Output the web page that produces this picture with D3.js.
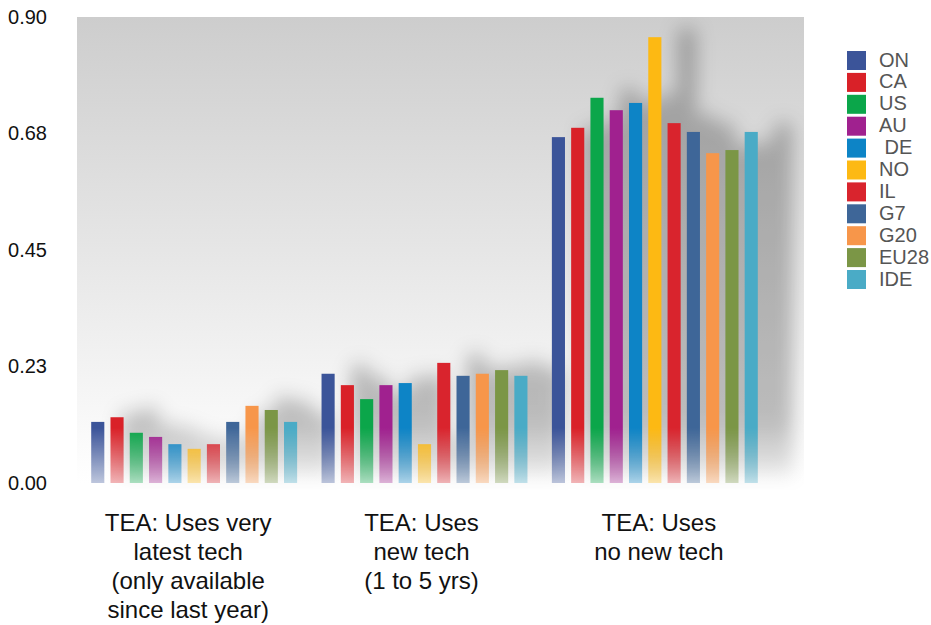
<!DOCTYPE html>
<html>
<head>
<meta charset="utf-8">
<script src="https://cdn.jsdelivr.net/npm/d3@7"></script>
<style>
    html, body { margin: 0; padding: 0; background: #fff; }
    svg { display: block; font-family: "Liberation Sans", Arial, sans-serif; }
</style>
</head>
<body>
<svg id="chart" width="931" height="625"></svg>
<script>
// data
const groups = ["latest", "new", "none"];
const groupLabels = [
    ["TEA: Uses very", "latest tech", "(only available", "since last year)"],
    ["TEA: Uses", "new tech", "(1 to 5 yrs)"],
    ["TEA: Uses", "no new tech"]
];
const series = ["ON", "CA", "US", "AU", " DE", "NO", "IL", "G7", "G20", "EU28", "IDE"];
const colors = ["#3b5499", "#d92128", "#0ba64a", "#a0218f", "#0d84c6", "#fdb913",
    "#d9242d", "#3e6698", "#f7964a", "#7b9646", "#4aabc6"];
const valuesLatest = [0.118, 0.127, 0.097, 0.089, 0.075, 0.066, 0.075, 0.118, 0.149, 0.141, 0.118];
const valuesNew = [0.211, 0.189, 0.162, 0.189, 0.193, 0.075, 0.232, 0.207, 0.211, 0.218, 0.207];
const valuesNone = [0.668, 0.686, 0.744, 0.720, 0.734, 0.861, 0.695, 0.678, 0.637, 0.643, 0.678];
const yTicks = [0, 0.225, 0.45, 0.675, 0.9];
const yTickLabels = ["0.00", "0.23", "0.45", "0.68", "0.90"];

const W = 931, H = 625,
    PLOT_LEFT = 77, PLOT_RIGHT = 804, PLOT_TOP = 17, PLOT_BOTTOM = 490,
    Y_ZERO = 483;
// the category labels are not quite centred under their bars
const LABEL_SHIFT = [-6, -3, 4];

const rows = [valuesLatest, valuesNew, valuesNone];
const bars = [];
rows.forEach((vals, gi) => {
    vals.forEach((v, si) => bars.push({group: groups[gi], key: series[si], color: colors[si], value: v}));
});

const svg = d3.select("#chart");
const defs = svg.append("defs");

const x0 = d3.scaleBand().domain(groups).range([79, 770]).paddingInner(0.106).paddingOuter(0.053);
const x1 = d3.scaleBand().domain(series).range([0, x0.bandwidth()]).paddingInner(0.32).paddingOuter(0);
const y = d3.scaleLinear().domain([0, 0.9]).range([Y_ZERO, PLOT_TOP]);

// background gradient
const bg = defs.append("linearGradient").attr("id", "bgGrad")
    .attr("gradientUnits", "userSpaceOnUse")
    .attr("x1", 0).attr("y1", PLOT_TOP).attr("x2", 0).attr("y2", Y_ZERO);
bg.append("stop").attr("offset", 0).attr("stop-color", "#cdcdcd");
bg.append("stop").attr("offset", 1).attr("stop-color", "#ffffff");

// fade at the bottom of the bars
const fade = defs.append("linearGradient").attr("id", "fadeGrad")
    .attr("gradientUnits", "userSpaceOnUse")
    .attr("x1", 0).attr("y1", 428).attr("x2", 0).attr("y2", Y_ZERO);
fade.append("stop").attr("offset", 0).attr("stop-color", "#fff");
fade.append("stop").attr("offset", 1).attr("stop-color", "#555");
defs.append("mask").attr("id", "fadeMask")
    .attr("maskUnits", "userSpaceOnUse")
    .attr("x", 0).attr("y", 0).attr("width", W).attr("height", H)
    .append("rect").attr("width", W).attr("height", H).attr("fill", "url(#fadeGrad)");

// soft shadow
const shadow = defs.append("filter").attr("id", "shadow")
    .attr("filterUnits", "userSpaceOnUse")
    .attr("x", 0).attr("y", 0).attr("width", W).attr("height", H);
shadow.append("feGaussianBlur").attr("in", "SourceAlpha").attr("stdDeviation", 10).attr("result", "blur");
shadow.append("feOffset").attr("in", "blur").attr("dx", 32).attr("dy", -8).attr("result", "off");
shadow.append("feFlood").attr("flood-color", "#000").attr("flood-opacity", 0.36);
shadow.append("feComposite").attr("in2", "off").attr("operator", "in");

defs.append("clipPath").attr("id", "plotClip")
    .append("rect")
    .attr("x", PLOT_LEFT).attr("y", PLOT_TOP)
    .attr("width", PLOT_RIGHT - PLOT_LEFT).attr("height", PLOT_BOTTOM - PLOT_TOP);

svg.append("rect")
    .attr("x", PLOT_LEFT).attr("y", PLOT_TOP)
    .attr("width", PLOT_RIGHT - PLOT_LEFT).attr("height", PLOT_BOTTOM - PLOT_TOP)
    .attr("fill", "url(#bgGrad)");

function drawBars(parent) {
    parent.selectAll("rect")
        .data(bars)
        .join("rect")
        .attr("x", (d) => x0(d.group) + x1(d.key))
        .attr("y", (d) => y(d.value))
        .attr("width", x1.bandwidth())
        .attr("height", (d) => y(0) - y(d.value))
        .attr("fill", (d) => d.color);
}

drawBars(svg.append("g").attr("clip-path", "url(#plotClip)")
    .append("g").attr("filter", "url(#shadow)")
    .append("g").attr("mask", "url(#fadeMask)"));
drawBars(svg.append("g").attr("mask", "url(#fadeMask)"));

// y axis
const yAxis = svg.append("g")
    .attr("transform", "translate(55,0)")
    .call(d3.axisLeft(y).tickValues(yTicks).tickSize(0).tickPadding(8)
        .tickFormat((d, i) => yTickLabels[i]));
yAxis.select(".domain").remove();
yAxis.selectAll("text")
    .attr("font-family", "'Liberation Sans', Arial, sans-serif")
    .attr("font-size", 20)
    .attr("fill", "#111");

// category labels
const lab = svg.append("g").selectAll("text")
    .data(groups)
    .join("text")
    .attr("text-anchor", "middle")
    .attr("font-size", 24)
    .attr("fill", "#111")
    .attr("transform", (d, i) => `translate(${x0(d) + x0.bandwidth() / 2 + LABEL_SHIFT[i]},531)`);
lab.selectAll("tspan")
    .data((d, i) => groupLabels[i])
    .join("tspan")
    .attr("x", 0)
    .attr("y", (d, i) => i * 29)
    .text((d) => d);

// legend
const legend = svg.append("g").attr("transform", "translate(847,51)")
    .selectAll("g")
    .data(series)
    .join("g")
    .attr("transform", (d, i) => `translate(0,${i * 21.9})`);
legend.append("rect")
    .attr("width", 19).attr("height", 19)
    .attr("fill", (d, i) => colors[i]);
legend.append("text")
    .attr("x", 32).attr("y", 9.5).attr("dy", "0.3em")
    .attr("font-size", 20)
    .attr("fill", "#555")
    .style("white-space", "pre")
    .text((d) => d);
</script>
</body>
</html>
